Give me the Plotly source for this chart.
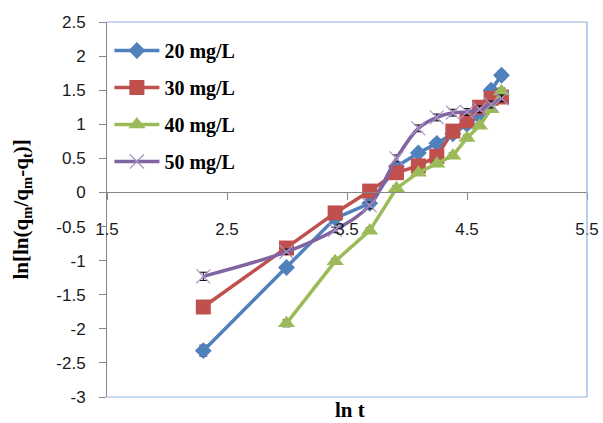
import math
import plotly.graph_objects as go

# ---- data ----
t_all = [10, 20, 30, 40, 50, 60, 70, 80, 90, 100, 110, 120]
t_40 = [20, 30, 40, 50, 60, 70, 80, 90, 100, 110, 120]

y_20 = [-2.32, -1.10, -0.38, -0.16, 0.38, 0.58, 0.72, 0.86, 1.00, 1.12, 1.50, 1.72]
y_30 = [-1.68, -0.815, -0.30, 0.02, 0.29, 0.39, 0.53, 0.90, 1.05, 1.25, 1.38, 1.40]
y_40 = [-1.92, -1.01, -0.56, 0.06, 0.29, 0.42, 0.54, 0.80, 0.98, 1.22, 1.48]
y_50 = [-1.23, -0.87, -0.55, -0.19, 0.50, 0.94, 1.10, 1.17, 1.18, 1.22, 1.29, 1.38]

err_20 = [0.08, 0.05, 0.05, 0.05, 0.05, 0.05, 0.05, 0.05, 0.05, 0.05, 0.05, 0.06]
err_30 = [0.04, 0.04, 0.04, 0.04, 0.04, 0.04, 0.04, 0.04, 0.04, 0.04, 0.04, 0.04]
err_40 = [0.05, 0.04, 0.04, 0.04, 0.04, 0.04, 0.04, 0.04, 0.04, 0.04, 0.05]
err_50 = [0.06, 0.04, 0.04, 0.05, 0.05, 0.05, 0.05, 0.05, 0.05, 0.05, 0.05, 0.05]

names = ["20 mg/L", "30 mg/L", "40 mg/L", "50 mg/L"]

x_ticks = [1.5, 2.5, 3.5, 4.5, 5.5]
x_ticktext = ["1.5", "2.5", "3.5", "4.5", "5.5"]
y_ticks = [-3, -2.5, -2, -1.5, -1, -0.5, 0, 0.5, 1, 1.5, 2, 2.5]
y_ticktext = ["-3", "-2.5", "-2", "-1.5", "-1", "-0.5", "0", "0.5", "1", "1.5", "2", "2.5"]

x_title = "ln t"
y_title = "ln[ln(q<sub>m</sub>/q<sub>m</sub>-q<sub>t</sub>)]"

lnt_all = [math.log(v) for v in t_all]
lnt_40 = [math.log(v) for v in t_40]

W, H = 603, 423
L, R, T, B = 107, 16, 22, 26
pw, ph = W - L - R, H - T - B

fig = go.Figure()

def add(x, y, err, name, color, symbol, size, shape="linear", mline=None):
    marker = dict(symbol=symbol, size=size, color=color, line=dict(width=0))
    if mline:
        marker = dict(symbol=symbol, size=size, color=mline, line=dict(width=1.2, color=mline))
    fig.add_trace(go.Scatter(
        x=x, y=y, name=name, mode="lines+markers",
        line=dict(color=color, width=3.5, shape=shape, smoothing=1.0),
        marker=marker, legendgroup=name,
        error_y=dict(type="data", array=err, visible=True, color="black",
                     thickness=1, width=4),
    ))

add(lnt_all, y_20, err_20, names[0], "#4F81BD", "diamond", 13)
add(lnt_all, y_30, err_30, names[1], "#C0504D", "square", 15)
add(lnt_40, y_40, err_40, names[2], "#9BBB59", "triangle-up", 15)
add(lnt_all, y_50, err_50, names[3], "#8064A2", "x-thin-open", 14, shape="spline", mline="#A895C8")

zero_frac = (0 - (-3)) / (2.5 - (-3))

tick_font = dict(family="Liberation Sans", size=17, color="#1a1a1a")

fig.update_layout(
    width=W, height=H,
    margin=dict(l=L, r=R, t=T, b=B, pad=0, autoexpand=False),
    paper_bgcolor="white", plot_bgcolor="white",
    showlegend=True,
    legend=dict(x=0.005, y=1 - 9 / ph, xanchor="left", yanchor="top",
                font=dict(family="Liberation Serif", size=20, color="black", weight="bold"),
                bgcolor="rgba(0,0,0,0)", traceorder="grouped", tracegroupgap=8,
                itemwidth=45),
    xaxis=dict(range=[1.5, 5.5], tickvals=x_ticks, ticktext=x_ticktext,
               showgrid=False, zeroline=False, showline=True, linecolor="#868686",
               linewidth=1, ticks="outside", ticklen=7, tickcolor="#868686",
               anchor="free", position=zero_frac, tickfont=tick_font,
               ticklabelstandoff=14, automargin=False),
    yaxis=dict(range=[-3, 2.5], tickvals=y_ticks, ticktext=y_ticktext,
               showgrid=False, zeroline=False, showline=True, linecolor="#868686",
               linewidth=1, ticks="outside", ticklen=7, tickcolor="#868686",
               tickfont=tick_font, ticklabelstandoff=10, automargin=False),
)

border = "#8EB4E3"
for (x0, y0, x1, y1) in [(0, 1, 1, 1), (1, 0, 1, 1), (0, 0, 1, 0)]:
    fig.add_shape(type="line", xref="paper", yref="paper", x0=x0, y0=y0, x1=x1, y1=y1,
                  line=dict(color=border, width=1.2), layer="above")

fig.add_annotation(text=x_title, xref="paper", yref="paper",
                   x=(350 - L) / pw, y=(397 - 410) / ph, xanchor="center", yanchor="middle",
                   showarrow=False,
                   font=dict(family="Liberation Serif", size=21, color="black", weight="bold"))
fig.add_annotation(text=y_title, xref="paper", yref="paper",
                   x=(21 - L) / pw, y=0.5, xanchor="center", yanchor="middle",
                   textangle=-90, showarrow=False,
                   font=dict(family="Liberation Serif", size=21, color="black", weight="bold"))

fig.write_html("out.html", config={"displayModeBar": False},
               post_script="document.body.style.margin='0';document.body.style.overflow='hidden';")
